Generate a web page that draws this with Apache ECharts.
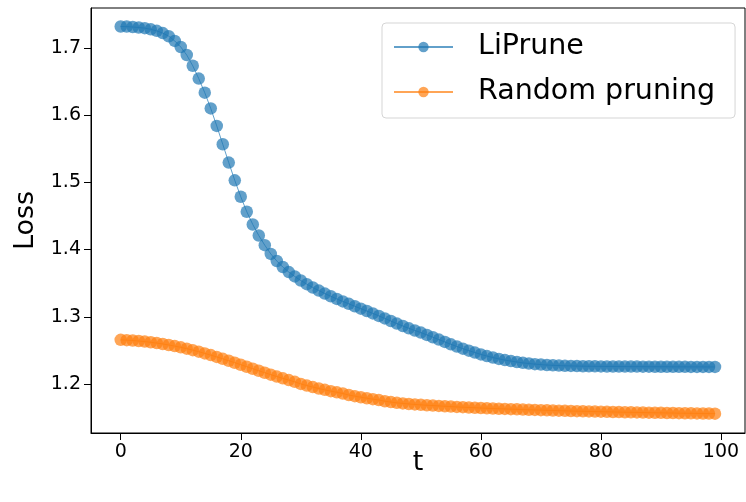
<!DOCTYPE html>
<html>
<head>
<meta charset="utf-8">
<script src="https://cdn.jsdelivr.net/npm/echarts@6/dist/echarts.min.js"></script>
<style>
  html, body { margin: 0; padding: 0; background: #fff; }
  #main { width: 746px; height: 502px; }
</style>
</head>
<body>
<div id="main"></div>
<script>
// loss per step t = 0..99
var lipruneLoss = [
  1.7320, 1.7318, 1.7312, 1.7305, 1.7295, 1.7278, 1.7255, 1.7222, 1.7175, 1.7105,
  1.7015, 1.6895, 1.6735, 1.6545, 1.6335, 1.6100, 1.5840, 1.5567, 1.5294, 1.5030,
  1.4786, 1.4563, 1.4373, 1.4209, 1.4065, 1.3935, 1.3830, 1.3740, 1.3665, 1.3600,
  1.3540, 1.3485, 1.3435, 1.3390, 1.3345, 1.3305, 1.3265, 1.3228, 1.3192, 1.3156,
  1.3120, 1.3085, 1.3050, 1.3013, 1.2975, 1.2937, 1.2898, 1.2862, 1.2828, 1.2796,
  1.2765, 1.2730, 1.2695, 1.2660, 1.2625, 1.2590, 1.2557, 1.2525, 1.2495, 1.2467,
  1.2440, 1.2415, 1.2393, 1.2373, 1.2355, 1.2340, 1.2326, 1.2314, 1.2304, 1.2295,
  1.2288, 1.2282, 1.2277, 1.2273, 1.2270, 1.2268, 1.2266, 1.2264, 1.2263, 1.2262,
  1.2261, 1.2260, 1.2260, 1.2259, 1.2259, 1.2258, 1.2258, 1.2257, 1.2257, 1.2256,
  1.2256, 1.2256, 1.2255, 1.2255, 1.2255, 1.2254, 1.2254, 1.2254, 1.2253, 1.2253
];
var randomLoss = [
  1.2657, 1.2652, 1.2646, 1.2639, 1.2630, 1.2620, 1.2608, 1.2595, 1.2580, 1.2563,
  1.2545, 1.2525, 1.2503, 1.2480, 1.2455, 1.2429, 1.2402, 1.2374, 1.2345, 1.2316,
  1.2286, 1.2256, 1.2226, 1.2196, 1.2167, 1.2138, 1.2110, 1.2083, 1.2057, 1.2032,
  1.2000, 1.1976, 1.1953, 1.1932, 1.1912, 1.1893, 1.1875, 1.1858, 1.1835, 1.1818,
  1.1802, 1.1787, 1.1773, 1.1760, 1.1743, 1.1730, 1.1719, 1.1710, 1.1702, 1.1695,
  1.1689, 1.1683, 1.1678, 1.1673, 1.1668, 1.1663, 1.1658, 1.1654, 1.1650, 1.1646,
  1.1642, 1.1638, 1.1634, 1.1631, 1.1628, 1.1625, 1.1622, 1.1619, 1.1616, 1.1613,
  1.1610, 1.1607, 1.1605, 1.1602, 1.1600, 1.1597, 1.1595, 1.1593, 1.1591, 1.1589,
  1.1587, 1.1585, 1.1583, 1.1581, 1.1579, 1.1578, 1.1576, 1.1574, 1.1573, 1.1571,
  1.1570, 1.1568, 1.1567, 1.1565, 1.1564, 1.1563, 1.1561, 1.1560, 1.1559, 1.1558
];
var xTicks = [0, 20, 40, 60, 80, 100];
var yTicks = [1.2, 1.3, 1.4, 1.5, 1.6, 1.7];
var seriesNames = ['LiPrune', 'Random pruning'];

var FONT = 'DejaVu Sans';

function toPoints(arr) {
  return arr.map(function (v, i) { return [i, v]; });
}

var chart = echarts.init(document.getElementById('main'));

function lossSeries(name, values, color) {
  return {
    name: name,
    type: 'line',
    data: toPoints(values),
    symbol: 'circle',
    symbolSize: 12.5,
    showSymbol: true,
    showAllSymbol: true,
    itemStyle: { color: color, opacity: 0.7 },
    lineStyle: { color: color, width: 1, opacity: 0.7 },
    emphasis: { disabled: true },
    z: 2
  };
}

var option = {
  animation: false,
  grid: {
    left: 91, right: 1, top: 8, bottom: 69,
    show: true, borderColor: '#000', borderWidth: 1,
    backgroundColor: 'transparent'
  },
  legend: {
    orient: 'vertical',
    left: 382,
    top: 23,
    padding: [9, 20, 11, 11],
    itemWidth: 59,
    itemHeight: 13,
    itemGap: 15,
    borderColor: '#d5d5d5',
    borderWidth: 1,
    borderRadius: 4,
    backgroundColor: 'rgba(255,255,255,0.8)',
    textStyle: {
      fontFamily: FONT, fontSize: 28.5, color: '#000',
      lineHeight: 30, padding: [0, 0, 0, 20]
    },
    data: seriesNames
  },
  xAxis: {
    type: 'value',
    min: -4.95,
    max: 104,
    name: 't',
    nameLocation: 'middle',
    nameGap: 16,
    nameMoveOverlap: false,
    nameTextStyle: { fontFamily: FONT, fontSize: 27, color: '#000' },
    axisLine: { show: true, onZero: false, lineStyle: { color: '#000', width: 1 } },
    axisTick: { show: true, inside: false, length: 7, customValues: xTicks, lineStyle: { color: '#000' } },
    axisLabel: { customValues: xTicks, margin: 10, fontFamily: FONT, fontSize: 19, color: '#000' },
    splitLine: { show: false }
  },
  yAxis: {
    type: 'value',
    min: 1.127,
    max: 1.7595,
    name: 'Loss',
    nameLocation: 'middle',
    nameRotate: 90,
    nameGap: 52,
    nameMoveOverlap: false,
    nameTextStyle: { fontFamily: FONT, fontSize: 27, color: '#000' },
    axisLine: { show: true, onZero: false, lineStyle: { color: '#000', width: 1 } },
    axisTick: { show: true, inside: false, length: 7, customValues: yTicks, lineStyle: { color: '#000' } },
    axisLabel: {
      customValues: yTicks, margin: 10, fontFamily: FONT, fontSize: 19, color: '#000',
      formatter: function (v) { return v.toFixed(1); }
    },
    splitLine: { show: false }
  },
  series: [
    lossSeries(seriesNames[0], lipruneLoss, '#1f77b4'),
    lossSeries(seriesNames[1], randomLoss, '#ff7f0e')
  ]
};

chart.setOption(option);
</script>
</body>
</html>
